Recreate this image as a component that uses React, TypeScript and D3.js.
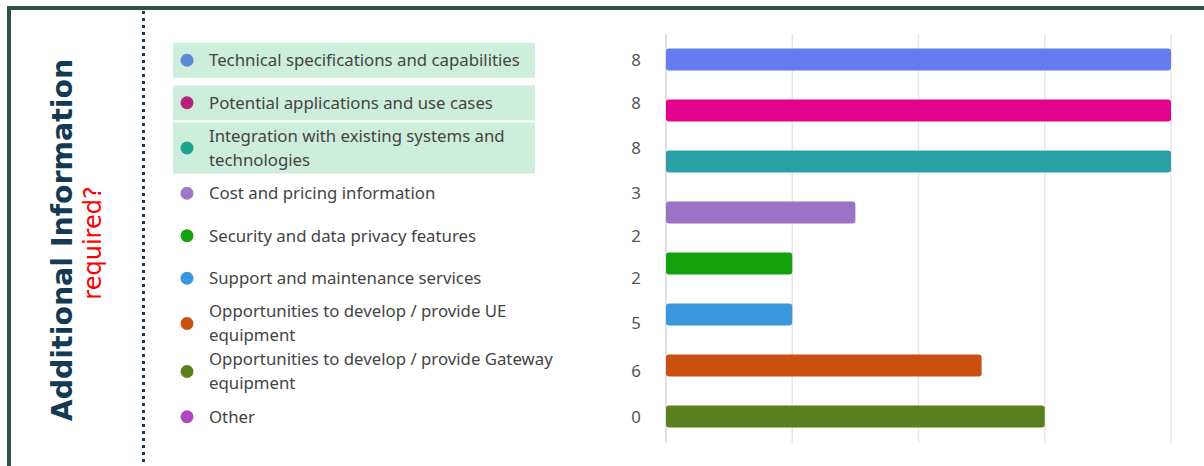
import React, { useEffect, useRef } from 'react';
import * as d3 from 'd3';

// categories, as shown in the legend (\n = line break)
const categories = [
  'Technical specifications and capabilities',
  'Potential applications and use cases',
  'Integration with existing systems and\ntechnologies',
  'Cost and pricing information',
  'Security and data privacy features',
  'Support and maintenance services',
  'Opportunities to develop / provide UE\nequipment',
  'Opportunities to develop / provide Gateway\nequipment',
  'Other',
];
const counts = [8, 8, 8, 3, 2, 2, 5, 6, 0];
const highlighted = [true, true, true, false, false, false, false, false, false];
const dotColors = ['#5b8ad6', '#b5237e', '#1fa190', '#9b7ac4', '#13a10e', '#3a96dd', '#ca5010', '#5a7f1f', '#b146c2'];
const barColors = ['#647cee', '#e3008c', '#2aa0a4', '#9a73c4', '#13a10e', '#3a96dd', '#ca5010', '#5a7f1f', '#b146c2'];
const xTicks = [0, 2, 4, 6, 8];

const width = 1204;
const height = 466;

export default function App() {
  const ref = useRef<SVGSVGElement | null>(null);

  useEffect(() => {
    const svg = d3.select(ref.current);
    svg.selectAll('*').remove();

    svg.append('rect').attr('width', width).attr('height', height).attr('fill', '#fff');

    // frame
    svg
      .append('path')
      .attr('d', `M9,${height + 5}V8H${width + 5}`)
      .attr('fill', 'none')
      .attr('stroke', '#2e5246')
      .attr('stroke-width', 4);

    // dotted divider
    svg
      .append('line')
      .attr('x1', 143.5)
      .attr('x2', 143.5)
      .attr('y1', 11)
      .attr('y2', height)
      .attr('stroke', '#1b3a5c')
      .attr('stroke-width', 3)
      .attr('stroke-dasharray', '3 4');

    // side titles
    svg
      .append('text')
      .attr('transform', 'translate(72,240) rotate(-90)')
      .attr('text-anchor', 'middle')
      .style('font-family', '"DejaVu Sans", Verdana, sans-serif')
      .style('font-weight', 'bold')
      .style('font-size', '28.4px')
      .attr('fill', '#133a52')
      .text('Additional Information');
    svg
      .append('text')
      .attr('transform', 'translate(101,243) rotate(-90)')
      .attr('text-anchor', 'middle')
      .style('font-family', '"DejaVu Sans", Verdana, sans-serif')
      .style('font-size', '24px')
      .attr('fill', '#ff0000')
      .text('required?');

    // legend rows: single line rows 42px, two line rows 48px
    const lines = categories.map((c) => c.split('\n'));
    const centers: number[] = [];
    let y = 39;
    lines.forEach((l) => {
      const h = l.length > 1 ? 48 : 42.5;
      centers.push(y + h / 2);
      y += h;
    });

    const legend = svg.append('g').style('font-family', '"Noto Sans", sans-serif');
    categories.forEach((c, i) => {
      const cy = centers[i];
      const l = lines[i];
      if (highlighted[i]) {
        const bh = l.length > 1 ? 51 : 35;
        legend
          .append('rect')
          .attr('x', 173)
          .attr('y', cy - bh / 2)
          .attr('width', 362)
          .attr('height', bh)
          .attr('fill', '#cdeedb');
      }
      legend.append('circle').attr('cx', 187).attr('cy', cy).attr('r', 6.5).attr('fill', dotColors[i]);
      const t = legend
        .append('text')
        .attr('y', cy - ((l.length - 1) * 24) / 2)
        .style('font-size', '16.8px')
        .attr('fill', '#444444');
      l.forEach((s, j) => {
        t.append('tspan').attr('x', 209).attr('dy', j === 0 ? '0.35em' : '24px').text(s);
      });
      legend
        .append('text')
        .attr('x', 636)
        .attr('y', cy)
        .attr('dy', '0.35em')
        .attr('text-anchor', 'middle')
        .style('font-size', '16.8px')
        .attr('fill', '#555555')
        .text(String(counts[i]));
    });

    // bars
    const x = d3.scaleLinear().domain([0, 8]).range([666, 1171]);
    const barCats = categories.filter((_, i) => counts[i] > 0);
    const yb = d3.scaleBand<string>().domain(barCats).range([34, 442]).paddingInner(0.57).paddingOuter(0.285);

    svg
      .append('g')
      .selectAll('line')
      .data(xTicks)
      .enter()
      .append('line')
      .attr('x1', (d) => x(d))
      .attr('x2', (d) => x(d))
      .attr('y1', 34)
      .attr('y2', 443)
      .attr('stroke', (d) => (d === 0 ? '#d6d6d6' : '#e6e6e6'))
      .attr('stroke-width', 1.5);

    svg
      .append('g')
      .selectAll('rect')
      .data(barCats)
      .enter()
      .append('rect')
      .attr('x', x(0))
      .attr('y', (d) => yb(d) as number)
      .attr('width', (d) => x(counts[categories.indexOf(d)]) - x(0))
      .attr('height', yb.bandwidth())
      .attr('rx', 3)
      .attr('fill', (d) => barColors[categories.indexOf(d)]);
  }, []);

  return (
    <div style={{ position: 'absolute', left: 0, top: 0 }}>
      <svg ref={ref} width={width} height={height} style={{ display: 'block' }} />
    </div>
  );
}
